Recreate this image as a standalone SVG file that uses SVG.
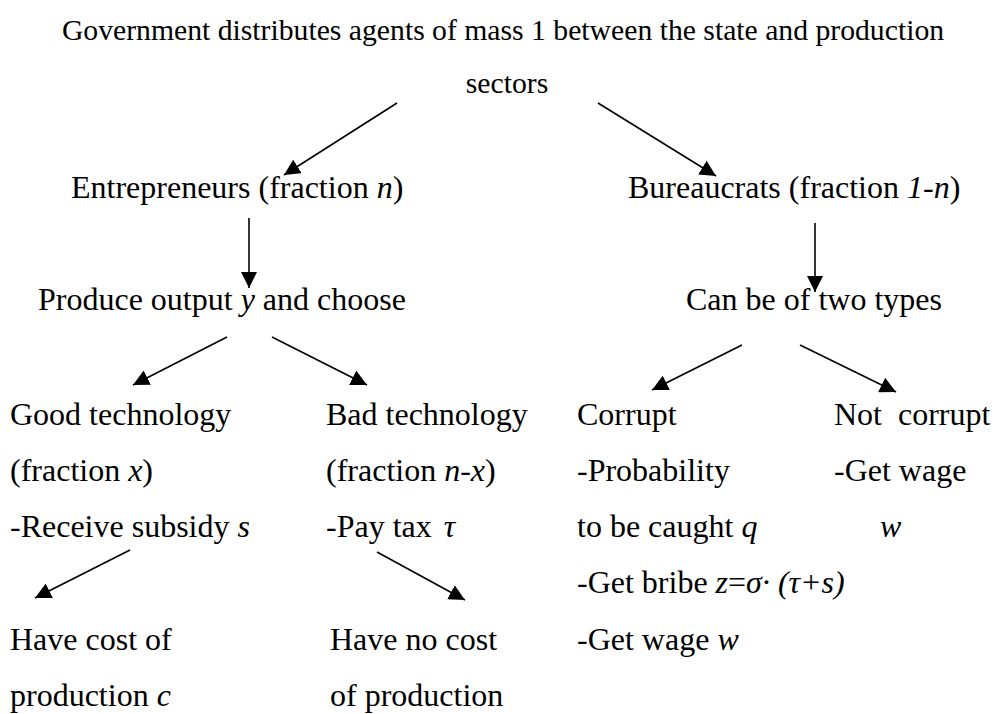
<svg xmlns="http://www.w3.org/2000/svg" width="997" height="714" viewBox="0 0 997 714" font-family="Liberation Serif">
  <defs>
    <style>
      text { font-family: Liberation Serif, Times New Roman, serif; font-size: 32px; fill: #000; }
      .title { font-size: 29.7px; }
      .i { font-style: italic; }
      .c { text-anchor: middle; }
      .edge { stroke: #000; stroke-width: 1.6; fill: none; marker-end: url(#head); }
    </style>
    <marker id="head" viewBox="0 0 16 16" refX="16" refY="8" markerWidth="16" markerHeight="16" markerUnits="userSpaceOnUse" orient="auto">
      <path d="M0,0 L16,8 L0,16 Z" fill="#000"/>
    </marker>
  </defs>
  <rect width="997" height="714" fill="#fff"/>

  <g id="government">
    <text x="503" y="40" class="c title">Government distributes agents of mass 1 between the state and production</text>
    <text x="507" y="93" class="c title">sectors</text>
  </g>

  <g id="entrepreneurs">
    <text x="71" y="198">Entrepreneurs (fraction <tspan class="i">n</tspan>)</text>
  </g>
  <g id="bureaucrats">
    <text x="628" y="198">Bureaucrats (fraction <tspan class="i">1-n</tspan>)</text>
  </g>

  <g id="produce">
    <text x="38" y="310">Produce output <tspan class="i">y</tspan> and choose</text>
  </g>
  <g id="two-types">
    <text x="686" y="310">Can be of two types</text>
  </g>

  <g id="good-tech">
    <text x="10" y="425">Good technology</text>
    <text x="10" y="481">(fraction <tspan class="i">x</tspan>)</text>
    <text x="10" y="537">-Receive subsidy <tspan class="i">s</tspan></text>
  </g>
  <g id="bad-tech">
    <text x="326" y="425">Bad technology</text>
    <text x="326" y="481">(fraction <tspan class="i">n-x</tspan>)</text>
    <text x="326" y="537">-Pay tax <tspan class="i" dx="4">&#964;</tspan></text>
  </g>

  <g id="corrupt">
    <text x="577" y="425">Corrupt</text>
    <text x="577" y="481">-Probability</text>
    <text x="577" y="537">to be caught <tspan class="i">q</tspan></text>
    <text x="577" y="593">-Get bribe <tspan class="i">z</tspan>=<tspan class="i">&#963;&#183; (&#964;+s)</tspan></text>
    <text x="577" y="650">-Get wage <tspan class="i">w</tspan></text>
  </g>
  <g id="not-corrupt">
    <text x="834" y="425" xml:space="preserve">Not  corrupt</text>
    <text x="834" y="481">-Get wage</text>
    <text x="880" y="537" class="i">w</text>
  </g>

  <g id="cost">
    <text x="10" y="650">Have cost of</text>
    <text x="10" y="706">production <tspan class="i">c</tspan></text>
  </g>
  <g id="no-cost">
    <text x="330" y="650">Have no cost</text>
    <text x="330" y="706">of production</text>
  </g>

  <g id="connectors">
    <line class="edge" x1="397" y1="103" x2="284" y2="175"/>
    <line class="edge" x1="598" y1="103" x2="716" y2="176"/>
    <line class="edge" x1="249" y1="218" x2="249" y2="288"/>
    <line class="edge" x1="815" y1="223" x2="815" y2="292"/>
    <line class="edge" x1="227" y1="337" x2="133" y2="385"/>
    <line class="edge" x1="272" y1="337" x2="367" y2="385"/>
    <line class="edge" x1="742" y1="345" x2="652" y2="390"/>
    <line class="edge" x1="800" y1="345" x2="896" y2="392"/>
    <line class="edge" x1="130" y1="550" x2="35" y2="598"/>
    <line class="edge" x1="377" y1="552" x2="465" y2="600"/>
  </g>
</svg>
